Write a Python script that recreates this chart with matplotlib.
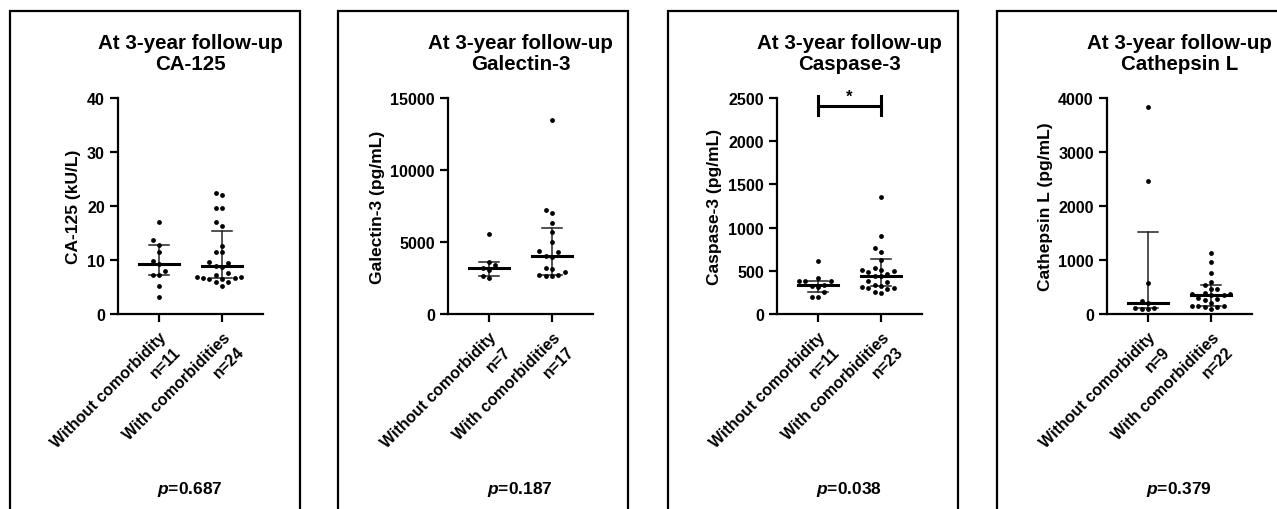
import matplotlib
matplotlib.use('Agg')
import matplotlib.pyplot as plt
from matplotlib.patches import Rectangle
import numpy as np

plt.rcParams['font.family'] = ['Liberation Sans', 'DejaVu Sans']
plt.rcParams['font.weight'] = 'bold'
plt.rcParams['mathtext.fontset'] = 'custom'
plt.rcParams['mathtext.it'] = 'Liberation Sans:italic:bold'
plt.rcParams['mathtext.rm'] = 'Liberation Sans:bold'

# Data
titles = ['CA-125', 'Galectin-3', 'Caspase-3', 'Cathepsin L']
ylabels = ['CA-125 (kU/L)', 'Galectin-3 (pg/mL)', 'Caspase-3 (pg/mL)', 'Cathepsin L (pg/mL)']
group_names = ['Without comorbidity', 'With comorbidities']
n_without = [11, 7, 11, 9]
n_with = [24, 17, 23, 22]
p_values = ['0.687', '0.187', '0.038', '0.379']
y_max = [40, 15000, 2500, 4000]
y_step = [10, 5000, 500, 1000]

ca125_without = [17.1, 13.7, 12.8, 11.4, 9.9, 9.2, 8.0, 7.3, 7.3, 5.2, 3.2]
ca125_with = [22.5, 22.1, 19.6, 19.6, 17.0, 16.3, 12.6, 11.4, 11.4, 9.6, 9.4, 8.9,
              8.7, 7.6, 7.2, 6.8, 6.8, 6.7, 6.6, 6.5, 6.5, 6.0, 5.9, 5.1]
gal3_without = [5550, 3630, 3400, 3210, 3050, 2660, 2480]
gal3_with = [13480, 7240, 7010, 6320, 5670, 4975, 4370, 4320, 4025, 3990, 3190,
             3120, 2890, 2700, 2700, 2640, 2620]
casp3_without = [610, 417, 382, 382, 378, 339, 328, 316, 251, 193, 193]
casp3_with = [1350, 899, 764, 717, 625, 532, 513, 509, 494, 482, 460, 445, 440,
              385, 374, 340, 328, 309, 301, 300, 289, 258, 246]
cath_without = [3840, 2470, 568, 247, 210, 111, 105, 100, 87]
cath_with = [1130, 957, 759, 587, 543, 463, 463, 383, 370, 365, 360, 350, 300,
             278, 265, 204, 154, 145, 140, 135, 123, 93]

# median with interquartile range
med_without = [9.2, 3210, 339, 210]
q1_without = [7.3, 2620, 255, 103]
q3_without = [12.8, 3590, 385, 1510]
med_with = [8.8, 4025, 440, 358]
q1_with = [6.7, 2700, 328, 145]
q3_with = [15.4, 5990, 633, 543]

all_without = [ca125_without, gal3_without, casp3_without, cath_without]
all_with = [ca125_with, gal3_with, casp3_with, cath_with]

# significance bracket on Caspase-3
sig_panel = 2
sig_level = 2410
sig_cap = (2300, 2520)


def swarm(ax, x0, vals, d=6.3):
    # simple beeswarm in pixel space
    placed = []
    cands = [0]
    for k in range(1, 20):
        cands += [-k, k]
    for v in vals:
        px, py = ax.transData.transform((x0, v))
        for c in cands:
            cx = px + c * d
            if all((cx - qx) ** 2 + (py - qy) ** 2 >= (d * 0.95) ** 2 for qx, qy in placed):
                placed.append((cx, py))
                break
    return [ax.transData.inverted().transform(p)[0] for p in placed]


W, H = 1277, 510
fig = plt.figure(figsize=(W / 100, H / 100), dpi=100)
fig.patch.set_facecolor('white')

ax_left = [118, 448, 777, 1107]
box_left = [10, 338, 668, 997]

for i in range(4):
    # panel frame
    fig.patches.append(Rectangle((box_left[i] / W, -0.1), 290 / W, (H - 12) / H + 0.1,
                                 transform=fig.transFigure, fill=False,
                                 edgecolor='black', linewidth=1.6, clip_on=False))

    ax = fig.add_axes([ax_left[i] / W, (H - 315) / H, 145 / W, 216 / H])
    ax.set_xlim(-0.65, 1.65)
    ax.set_ylim(0, y_max[i])
    ax.set_yticks(np.arange(0, y_max[i] + 1, y_step[i]))
    ax.set_xticks([0, 1])
    ax.set_xticklabels([f'{group_names[0]}\nn={n_without[i]}',
                        f'{group_names[1]}\nn={n_with[i]}'],
                       rotation=45, ha='right', va='top', rotation_mode='anchor',
                       multialignment='right', fontsize=11.5, fontweight='bold',
                       linespacing=1.45)
    for s in ['top', 'right']:
        ax.spines[s].set_visible(False)
    for s in ['left', 'bottom']:
        ax.spines[s].set_linewidth(1.6)
    ax.tick_params(axis='both', direction='out', length=6, width=1.6, labelsize=11.5)
    ax.tick_params(axis='x', pad=5)
    for lab in ax.get_yticklabels():
        lab.set_fontweight('bold')
    ax.set_ylabel(ylabels[i], fontsize=12.5, fontweight='bold', labelpad=4)
    ax.set_title(f'At 3-year follow-up\n{titles[i]}', fontsize=14.8, fontweight='bold',
                 pad=21, linespacing=1.1)

    for g, vals in enumerate([all_without[i], all_with[i]]):
        vals = sorted(vals)
        xs = swarm(ax, g, vals)
        ax.scatter(xs, vals, s=12, color='black', zorder=3, linewidths=0)

    meds = [med_without[i], med_with[i]]
    q1s = [q1_without[i], q1_with[i]]
    q3s = [q3_without[i], q3_with[i]]
    for g in range(2):
        ax.plot([g - 0.32, g + 0.32], [meds[g], meds[g]], color='black', lw=2.2, zorder=4)
        ax.plot([g, g], [q1s[g], q3s[g]], color='#222222', lw=1.1, zorder=2)
        for q in (q1s[g], q3s[g]):
            ax.plot([g - 0.16, g + 0.16], [q, q], color='#222222', lw=1.1, zorder=2)

    if i == sig_panel:
        ax.plot([0, 1], [sig_level, sig_level], color='black', lw=2.2, clip_on=False)
        for g in range(2):
            ax.plot([g, g], list(sig_cap), color='black', lw=2.2, clip_on=False)
        ax.text(0.5, sig_level + 20, '*', ha='center', va='bottom', fontsize=12,
                fontweight='bold')

    fig.text((ax_left[i] + 72) / W, (H - 490) / H, f'$\\mathit{{p}}$=' + p_values[i],
             ha='center', va='center', fontsize=12.5, fontweight='bold')

fig.savefig('out.png', dpi=100, facecolor='white')
